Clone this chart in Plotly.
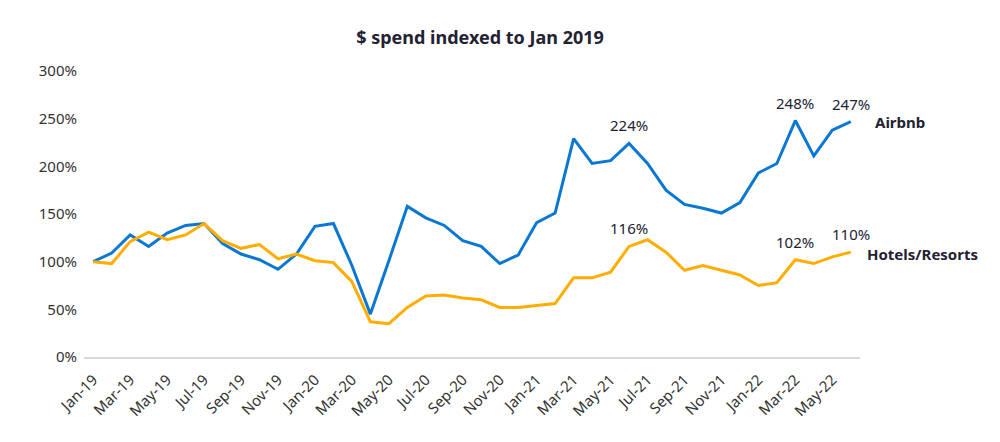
import plotly.graph_objects as go

months = [
    "Jan-19", "Feb-19", "Mar-19", "Apr-19", "May-19", "Jun-19", "Jul-19", "Aug-19", "Sep-19", "Oct-19", "Nov-19", "Dec-19",
    "Jan-20", "Feb-20", "Mar-20", "Apr-20", "May-20", "Jun-20", "Jul-20", "Aug-20", "Sep-20", "Oct-20", "Nov-20", "Dec-20",
    "Jan-21", "Feb-21", "Mar-21", "Apr-21", "May-21", "Jun-21", "Jul-21", "Aug-21", "Sep-21", "Oct-21", "Nov-21", "Dec-21",
    "Jan-22", "Feb-22", "Mar-22", "Apr-22", "May-22", "Jun-22",
]

airbnb = [
    100, 109, 128, 116, 130, 138, 140, 119, 108, 102, 92, 108,
    137, 140, 96, 45, 101, 158, 146, 138, 122, 116, 98, 107,
    141, 151, 229, 203, 206, 224, 203, 175, 160, 156, 151, 162,
    193, 203, 248, 211, 238, 247,
]

hotels = [
    100, 98, 121, 131, 123, 128, 140, 122, 114, 118, 103, 108,
    101, 99, 79, 37, 35, 52, 64, 65, 62, 60, 52, 52,
    54, 56, 83, 83, 89, 116, 123, 110, 91, 96, 91, 86,
    75, 78, 102, 98, 105, 110,
]

y_ticks = [0, 50, 100, 150, 200, 250, 300]
y_tick_text = [f"{v}%" for v in y_ticks]

airbnb_labels_at = [29, 38, 41]
hotels_labels_at = [29, 38, 41]

BLUE = "#0A78D2"
ORANGE = "#FFAD00"
TEXT = "#222233"

fig = go.Figure()
fig.add_trace(go.Scatter(x=months, y=airbnb, mode="lines", name="Airbnb",
                         line=dict(color=BLUE, width=3), showlegend=False))
fig.add_trace(go.Scatter(x=months, y=hotels, mode="lines", name="Hotels/Resorts",
                         line=dict(color=ORANGE, width=3), showlegend=False))

for i in airbnb_labels_at:
    fig.add_annotation(x=months[i], y=airbnb[i], text=f"{airbnb[i]}%", showarrow=False,
                       yanchor="middle", yshift=18, font=dict(size=15, color=TEXT))
for i in hotels_labels_at:
    fig.add_annotation(x=months[i], y=hotels[i], text=f"{hotels[i]}%", showarrow=False,
                       yanchor="middle", yshift=18, font=dict(size=15, color=TEXT))

fig.add_annotation(x=months[-1], y=airbnb[-1], text="<b>Airbnb</b>", showarrow=False,
                   xanchor="left", yanchor="middle", xshift=22, font=dict(size=15, color=TEXT))
fig.add_annotation(x=months[-1], y=hotels[-1], text="<b>Hotels/Resorts</b>", showarrow=False,
                   xanchor="left", yanchor="middle", xshift=14, yshift=-2, font=dict(size=15, color=TEXT))

fig.update_layout(
    width=1000, height=442,
    margin=dict(l=84, r=140, t=71, b=85),
    paper_bgcolor="white", plot_bgcolor="white",
    font=dict(family="Noto Sans, Open Sans, sans-serif", color=TEXT, size=14),
    title=dict(text="<b>$ spend indexed to Jan 2019</b>", x=0.48, xanchor="center",
               y=0.915, yanchor="middle", font=dict(size=18, color=TEXT)),
    xaxis=dict(type="category", range=[-0.5, len(months) - 0.5],
               tickmode="array", tickvals=months[::2], ticktext=months[::2],
               tickangle=-45, showgrid=False, zeroline=False,
               showline=True, linecolor="#D9D9D9", linewidth=2, ticks="",
               tickfont=dict(size=15, color="#333333"), ticklabelstandoff=6),
    yaxis=dict(range=[0, 300], tickmode="array", tickvals=y_ticks, ticktext=y_tick_text,
               showgrid=False, zeroline=False, showline=False, ticks="",
               tickfont=dict(size=15, color="#333333"), ticklabelstandoff=6),
)

fig.write_html("out.html")
